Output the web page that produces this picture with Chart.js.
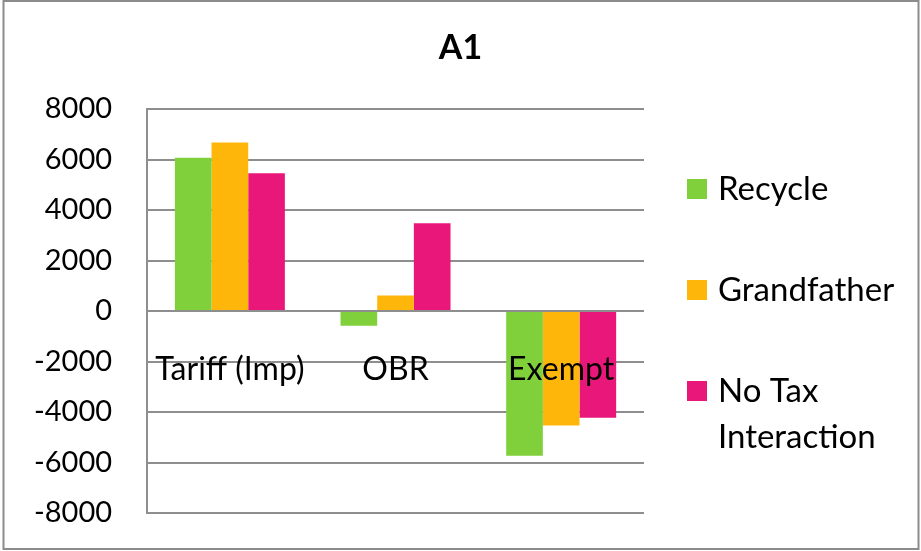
<!DOCTYPE html>
<html>
<head>
<meta charset="utf-8">
<title>A1</title>
<script src="https://cdn.jsdelivr.net/npm/chart.js@4/dist/chart.umd.min.js"></script>
<style>
  html, body { margin: 0; padding: 0; background: #ffffff; }
  #wrap { position: relative; width: 921px; height: 551px; }
  canvas { display: block; }
</style>
</head>
<body>
<div id="wrap"><canvas id="chart" width="921" height="551"></canvas></div>
<script>
// Categories and series values
const categories = ['Tariff (Imp)', 'OBR', 'Exempt'];
const recycle = [6070, -580, -5730];
const grandfather = [6670, 610, -4530];
const noTaxInteraction = [5460, 3480, -4230];
const seriesNames = ['Recycle', 'Grandfather', ['No Tax', 'Interaction']];
const yTicks = [8000, 6000, 4000, 2000, 0, -2000, -4000, -6000, -8000];
const chartTitle = 'A1';

const FONT = 'Lato, "Open Sans", sans-serif';
const colors = ['#80D03C', '#FFB60B', '#EA177B'];

// Outer frame, white background and the centred title
const framePlugin = {
  id: 'frame',
  beforeDraw(chart) {
    const ctx = chart.ctx;
    ctx.save();
    ctx.fillStyle = '#ffffff';
    ctx.fillRect(0, 0, chart.width, chart.height);
    ctx.strokeStyle = '#8c8c8c';
    ctx.lineWidth = 2;
    ctx.strokeRect(3.5, 1, chart.width - 6, chart.height - 3);
    ctx.font = 'bold 34px ' + FONT;
    ctx.fillStyle = '#000000';
    ctx.textAlign = 'center';
    ctx.textBaseline = 'middle';
    ctx.fillText(chartTitle, chart.width / 2, 48);
    ctx.restore();
  }
};

// Category names written near the zero line, above the bars
const categoryLabelPlugin = {
  id: 'categoryLabels',
  afterDatasetsDraw(chart) {
    const ctx = chart.ctx;
    const xs = chart.scales.x;
    const ys = chart.scales.y;
    const y0 = ys.getPixelForValue(0);
    ctx.save();
    ctx.font = '32px ' + FONT;
    ctx.fillStyle = '#000000';
    ctx.textAlign = 'center';
    ctx.textBaseline = 'middle';
    categories.forEach((c, i) => {
      ctx.fillText(c, xs.getPixelForValue(i), y0 + 59);
    });
    ctx.restore();
  }
};

// Legend on the right with square swatches
const sideLegendPlugin = {
  id: 'sideLegend',
  afterDraw(chart) {
    const ctx = chart.ctx;
    const area = chart.chartArea;
    const boxX = area.right + 43;
    const textX = boxX + 31;
    const firstY = 189;
    const step = 101;
    const lineH = 46;
    ctx.save();
    ctx.font = '33px ' + FONT;
    ctx.textAlign = 'left';
    ctx.textBaseline = 'middle';
    chart.data.datasets.forEach((ds, i) => {
      const cy = firstY + i * step;
      ctx.fillStyle = ds.backgroundColor;
      ctx.fillRect(boxX, cy - 10, 20, 20);
      ctx.fillStyle = '#000000';
      const lines = Array.isArray(seriesNames[i]) ? seriesNames[i] : [seriesNames[i]];
      lines.forEach((t, k) => ctx.fillText(t, textX, cy + k * lineH));
    });
    ctx.restore();
  }
};

new Chart(document.getElementById('chart'), {
  type: 'bar',
  data: {
    labels: categories,
    datasets: [
      { label: 'Recycle', data: recycle, backgroundColor: colors[0] },
      { label: 'Grandfather', data: grandfather, backgroundColor: colors[1] },
      { label: 'No Tax Interaction', data: noTaxInteraction, backgroundColor: colors[2] }
    ]
  },
  options: {
    responsive: false,
    animation: false,
    devicePixelRatio: 1,
    layout: { padding: { left: 20, right: 277, top: 109, bottom: 38 } },
    datasets: {
      bar: { categoryPercentage: 0.664, barPercentage: 1.0, borderWidth: 0 }
    },
    plugins: {
      legend: { display: false },
      tooltip: { enabled: false },
      title: { display: false }
    },
    scales: {
      x: {
        display: false
      },
      y: {
        min: -8000,
        max: 8000,
        afterBuildTicks(scale) { scale.ticks = yTicks.map(v => ({ value: v })); },
        ticks: {
          color: '#000000',
          font: { family: FONT, size: 29 },
          padding: 14,
          callback: v => String(v)
        },
        grid: {
          color: '#8e8e8e',
          lineWidth: 2,
          drawTicks: true,
          tickLength: 21,
          tickColor: 'rgba(0,0,0,0)'
        },
        border: { display: true, color: '#8e8e8e', width: 2 }
      }
    }
  },
  plugins: [framePlugin, categoryLabelPlugin, sideLegendPlugin]
});
</script>
</body>
</html>
